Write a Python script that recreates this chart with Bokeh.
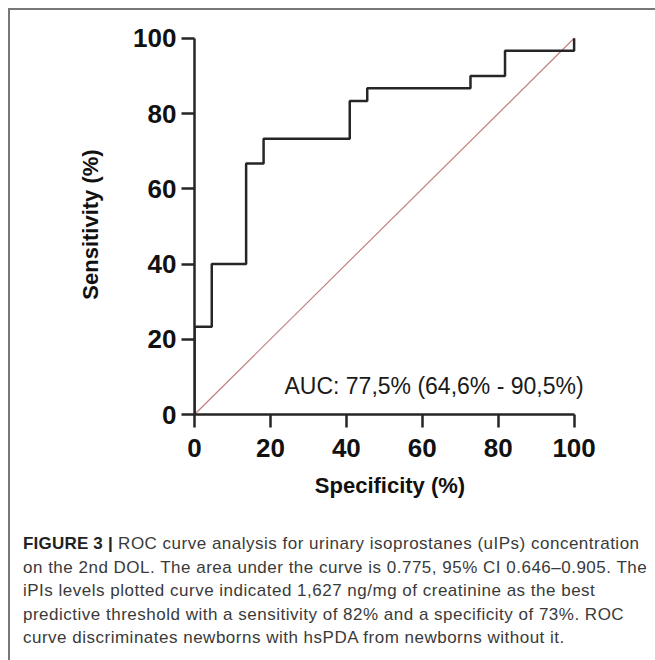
from bokeh.plotting import figure
from bokeh.models import Range1d, FixedTicker, Label, Div
from bokeh.layouts import column
from bokeh.embed import file_html
from bokeh.resources import INLINE

# ROC step curve (specificity %, sensitivity %)
spec = [0, 0, 4.55, 4.55, 13.6, 13.6, 18.2, 18.2, 40.9, 40.9, 45.5, 45.5, 72.7, 72.7, 81.8, 81.8, 100, 100]
sens = [0, 23.3, 23.3, 40.0, 40.0, 66.7, 66.7, 73.3, 73.3, 83.3, 83.3, 86.7, 86.7, 90.0, 90.0, 96.7, 96.7, 100]
ref_x = [0, 100]
ref_y = [0, 100]
ticks = [0, 20, 40, 60, 80, 100]
auc_text = "AUC:  77,5% (64,6% - 90,5%)"
caption_bold = "FIGURE 3 |"
caption_lines = [
    "ROC curve analysis for urinary isoprostanes (uIPs) concentration",
    "on the 2nd DOL. The area under the curve is 0.775, 95% CI 0.646\u20130.905. The",
    "iPIs levels plotted curve indicated 1,627 ng/mg of creatinine as the best",
    "predictive threshold with a sensitivity of 82% and a specificity of 73%. ROC",
    "curve discriminates newborns with hsPDA from newborns without it.",
]

FONT = "Liberation Sans"
INK = "#262626"

p = figure(width=645, height=510, output_backend="svg", toolbar_location=None,
           x_range=Range1d(0, 103), y_range=Range1d(0, 101),
           min_border_left=184, min_border_right=70, min_border_top=24, min_border_bottom=106)
p.grid.visible = False
p.outline_line_color = None
p.background_fill_color = "white"
p.border_fill_color = "white"

for ax in (p.xaxis[0], p.yaxis[0]):
    ax.ticker = FixedTicker(ticks=ticks)
    ax.bounds = (0, 100)
    ax.axis_line_width = 2.5
    ax.axis_line_color = INK
    ax.major_tick_line_width = 2.5
    ax.major_tick_line_color = INK
    ax.major_tick_out = 13
    ax.major_tick_in = 0
    ax.minor_tick_line_color = None
    ax.major_label_text_font = FONT
    ax.major_label_text_font_style = "bold"
    ax.major_label_text_font_size = "26px"
    ax.major_label_text_color = "#111111"
    ax.axis_label_text_font = FONT
    ax.axis_label_text_font_style = "bold"
    ax.axis_label_text_font_size = "22px"
    ax.axis_label_text_color = "#111111"

p.xaxis.axis_label = "Specificity (%)"
p.yaxis.axis_label = "Sensitivity (%)"
p.xaxis.major_label_standoff = 11
p.yaxis.major_label_standoff = 5
p.xaxis.axis_label_standoff = 13
p.yaxis.axis_label_standoff = 27

p.line(ref_x, ref_y, line_color="#b86a6a", line_width=1.2, line_alpha=0.85)
p.line(spec, sens, line_color=INK, line_width=2.5)

p.add_layout(Label(x=23.7, y=7.7, text=auc_text, text_font=FONT, text_font_size="23px",
                   text_color="#1a1a1a", text_baseline="alphabetic"))

caption_html = (
    "<div style=\"font-family:'Liberation Sans',Arial,sans-serif; font-size:17px; letter-spacing:0.5px; "
    "line-height:23.5px; color:#3a3a3a; padding-top:7px; padding-left:8px; white-space:nowrap;\">"
    + "<b style=\"color:#222222; letter-spacing:0.2px;\">" + caption_bold + "</b> "
    + "<br>".join(caption_lines)
    + "</div>"
)
cap = Div(text=caption_html, width=643, height=140)

layout = column(p, cap, spacing=0,
                styles={"margin-left": "8px", "margin-top": "8px",
                        "border-left": "2px solid #777777", "border-top": "2px solid #777777"})

open("out.html", "w").write(file_html(layout, INLINE))
